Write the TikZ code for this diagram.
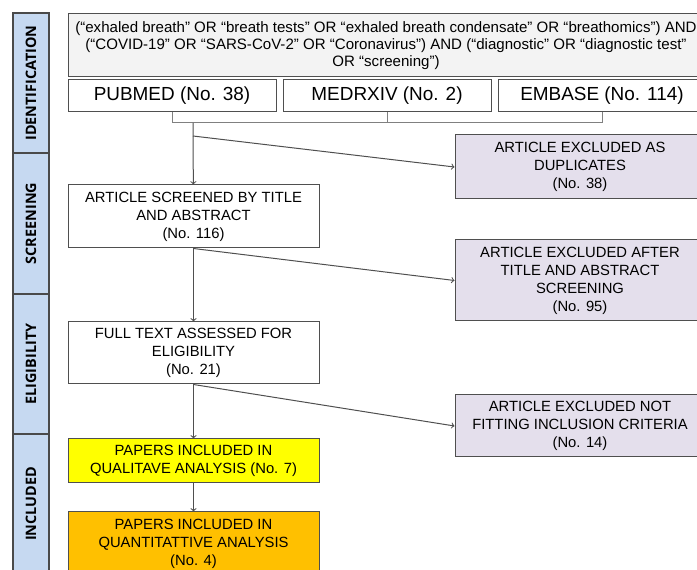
\documentclass[tikz,border=0pt]{standalone}
\usepackage{fontspec}
\setmainfont{Liberation Sans}
\newfontfamily\sidefont{Open Sans}
\usetikzlibrary{arrows}

\definecolor{sidebg}{HTML}{C6D9F1}
\definecolor{sideline}{HTML}{4A4A4A}
\definecolor{boxline}{HTML}{4F4F4F}
\definecolor{querybg}{HTML}{F3F3F3}
\definecolor{exclbg}{HTML}{E4DFEC}
\definecolor{qualbg}{HTML}{FFFF00}
\definecolor{quantbg}{HTML}{FFC000}

\begin{document}
\begin{tikzpicture}[x=0.75pt,y=-0.75pt,
	phase/.style={draw=sideline,fill=sidebg,line width=1.1pt},
	phasetext/.style={rotate=90,font=\sidefont\bfseries\fontsize{10.8}{12}\selectfont},
	box/.style={draw=boxline,line width=0.75pt,align=center,inner sep=0pt,
		minimum width=188.25pt,font=\fontsize{11.1}{13.5}\selectfont},
	dbbox/.style={box,minimum width=156pt,minimum height=24pt,font=\fontsize{14.2}{16}\selectfont},
	exclbox/.style={box,fill=exclbg,minimum width=187.5pt}]

	\path[use as bounding box,clip] (0,0) rectangle (697,570);

	% phases on the left
	\draw[phase] (13,13) rectangle (49,153) node[midway,phasetext]{IDENTIFICATION};
	\draw[phase] (13,153) rectangle (49,294) node[midway,phasetext]{SCREENING};
	\draw[phase] (13,294) rectangle (49,434) node[midway,phasetext]{ELIGIBILITY};
	\draw[phase] (13,434) rectangle (49,574) node[midway,phasetext]{INCLUDED};

	% search string and databases
	\node[box,fill=querybg,minimum width=477pt,minimum height=47.25pt,font=\fontsize{11.3}{13}\selectfont]
		(query) at (386,45.5) {(“exhaled breath” OR “breath tests” OR “exhaled breath condensate” OR “breathomics”) AND\\
		(“COVID-19” OR “SARS-CoV-2” OR “Coronavirus”) AND (“diagnostic” OR “diagnostic test”\\
		OR “screening”)};
	\node[dbbox] (pub) at (172,96) {PUBMED (No. 38)};
	\node[dbbox] (med) at (387,96) {MEDRXIV (No. 2)};
	\node[dbbox] (emb) at (602,96) {EMBASE (No. 114)};

	% flow
	\node[box,minimum height=47.25pt] (scr) at (193.5,216.5) {ARTICLE SCREENED BY TITLE\\AND ABSTRACT\\(No. 116)};
	\node[box,minimum height=46.5pt] (elig) at (193.5,353) {FULL TEXT ASSESSED FOR\\ELIGIBILITY\\(No. 21)};
	\node[box,fill=qualbg,minimum height=33pt] (qual) at (193.5,461) {PAPERS INCLUDED IN\\QUALITAVE ANALYSIS (No. 7)};
	\node[box,fill=quantbg,minimum height=48pt] (quant) at (193.5,544) {PAPERS INCLUDED IN\\QUANTITATTIVE ANALYSIS\\(No. 4)};

	\node[exclbox,minimum height=48pt] (dup) at (580,167) {ARTICLE EXCLUDED AS\\DUPLICATES\\(No. 38)};
	\node[exclbox,minimum height=60.75pt] (title) at (580,280.5) {ARTICLE EXCLUDED AFTER\\TITLE AND ABSTRACT\\SCREENING\\(No. 95)};
	\node[exclbox,minimum height=46.5pt] (crit) at (580,426) {ARTICLE EXCLUDED NOT\\FITTING INCLUSION CRITERIA\\(No. 14)};

	\coordinate (join) at (193,123);
	\coordinate (split) at (193,136);

	\draw[gray,line width=0.75pt] (pub.south) |- (emb.south |- join) -- (emb.south);
	\draw[gray,line width=0.75pt] (med.south) -- (med.south |- join);

	\path[->,color=boxline,line width=0.75pt]
	(join) edge (scr)
	(split) edge (dup.west)
	(scr.south) edge (title.west)
	(scr) edge (elig)
	(elig.south) edge (crit.west)
	(elig) edge (qual)
	(qual) edge (quant);
\end{tikzpicture}
\end{document}
